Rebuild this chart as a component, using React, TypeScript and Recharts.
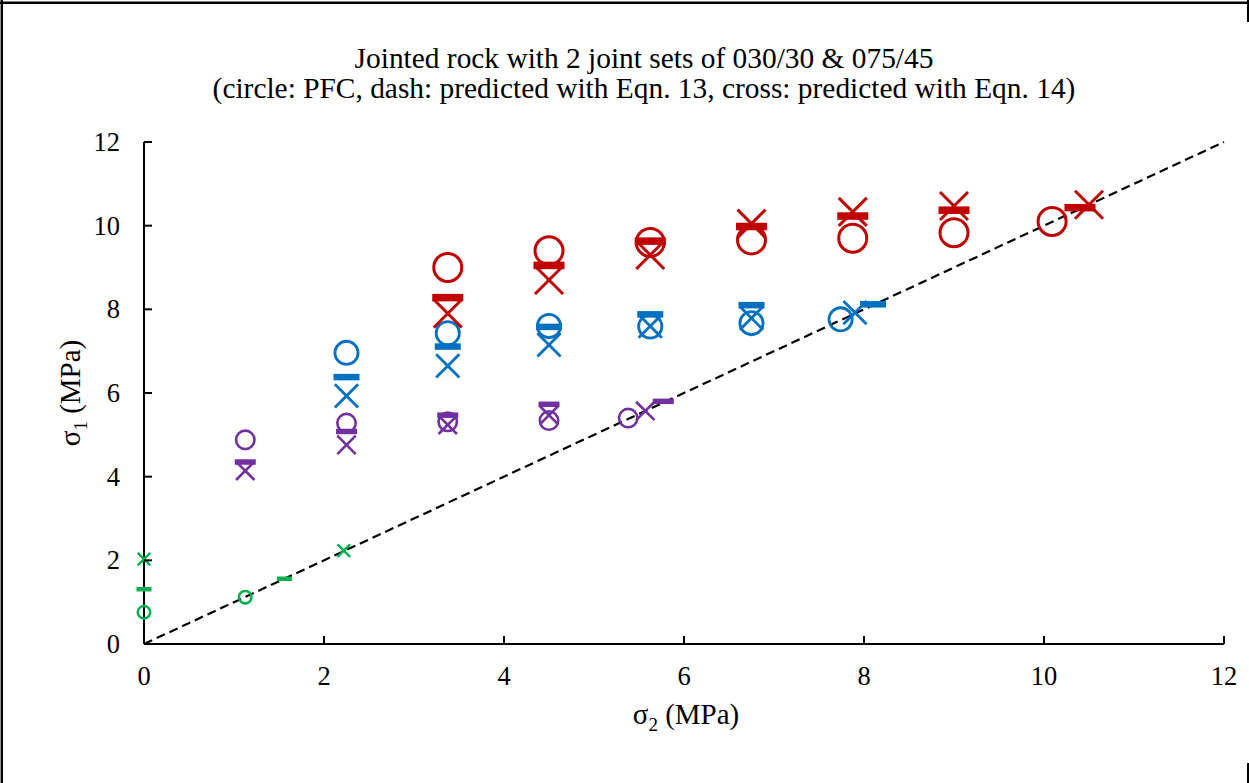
import React from "react";
import { ScatterChart, Scatter, XAxis, YAxis, ReferenceLine } from "recharts";

// ---------- data (σ2, σ1 in MPa) ----------
const xTicks = [0, 2, 4, 6, 8, 10, 12];
const yTicks = [0, 2, 4, 6, 8, 10, 12];

const titleLine1 = "Jointed rock with 2 joint sets of 030/30 & 075/45";
const titleLine2 = "(circle: PFC, dash: predicted with Eqn. 13, cross: predicted with Eqn. 14)";

const diagonal = [
  { s2: 0, s1: 0 },
  { s2: 12, s1: 12 },
];

const greenPFC = [
  { s2: 0, s1: 0.76 },
  { s2: 1.125, s1: 1.12 },
];
const greenEq13 = [
  { s2: 0, s1: 1.31 },
  { s2: 1.56, s1: 1.56 },
];
const greenEq14 = [
  { s2: 0, s1: 2.03 },
  { s2: 2.22, s1: 2.23 },
];

const purplePFC = [
  { s2: 1.125, s1: 4.88 },
  { s2: 2.25, s1: 5.28 },
  { s2: 3.375, s1: 5.31 },
  { s2: 4.5, s1: 5.34 },
  { s2: 5.38, s1: 5.4 },
];
const purpleEq13 = [
  { s2: 1.125, s1: 4.35 },
  { s2: 2.25, s1: 5.08 },
  { s2: 3.375, s1: 5.47 },
  { s2: 4.5, s1: 5.73 },
  { s2: 5.77, s1: 5.8 },
];
const purpleEq14 = [
  { s2: 1.125, s1: 4.14 },
  { s2: 2.25, s1: 4.76 },
  { s2: 3.375, s1: 5.24 },
  { s2: 4.5, s1: 5.47 },
  { s2: 5.57, s1: 5.57 },
];

const bluePFC = [
  { s2: 2.25, s1: 6.96 },
  { s2: 3.375, s1: 7.43 },
  { s2: 4.5, s1: 7.6 },
  { s2: 5.625, s1: 7.59 },
  { s2: 6.75, s1: 7.67 },
  { s2: 7.74, s1: 7.76 },
];
const blueEq13 = [
  { s2: 2.25, s1: 6.38 },
  { s2: 3.375, s1: 7.11 },
  { s2: 4.5, s1: 7.58 },
  { s2: 5.625, s1: 7.88 },
  { s2: 6.75, s1: 8.1 },
  { s2: 8.1, s1: 8.12 },
];
const blueEq14 = [
  { s2: 2.25, s1: 5.93 },
  { s2: 3.375, s1: 6.65 },
  { s2: 4.5, s1: 7.15 },
  { s2: 5.625, s1: 7.6 },
  { s2: 6.75, s1: 7.79 },
  { s2: 7.9, s1: 7.92 },
];

const redPFC = [
  { s2: 3.375, s1: 9.0 },
  { s2: 4.5, s1: 9.4 },
  { s2: 5.625, s1: 9.6 },
  { s2: 6.75, s1: 9.66 },
  { s2: 7.875, s1: 9.7 },
  { s2: 9.0, s1: 9.83 },
  { s2: 10.09, s1: 10.1 },
];
const redEq13 = [
  { s2: 3.375, s1: 8.28 },
  { s2: 4.5, s1: 9.05 },
  { s2: 5.625, s1: 9.63 },
  { s2: 6.75, s1: 9.98 },
  { s2: 7.875, s1: 10.23 },
  { s2: 9.0, s1: 10.37 },
  { s2: 10.4, s1: 10.43 },
];
const redEq14 = [
  { s2: 3.375, s1: 7.9 },
  { s2: 4.5, s1: 8.7 },
  { s2: 5.625, s1: 9.3 },
  { s2: 6.75, s1: 10.05 },
  { s2: 7.875, s1: 10.33 },
  { s2: 9.0, s1: 10.47 },
  { s2: 10.5, s1: 10.5 },
];

// ---------- styles ----------
const FONT = "'Liberation Serif', 'Times New Roman', serif";
const GREEN = "#00B050";
const PURPLE = "#7030A0";
const BLUE = "#0070C0";
const RED = "#C00000";

type Kind = "circle" | "dash" | "cross";

const makeShape = (kind: Kind, color: string, size: number, sw: number, dashH: number) => (props: any) => {
  const { cx, cy } = props;
  if (cx == null || cy == null || isNaN(cx) || isNaN(cy)) return <g />;
  const h = size / 2;
  if (kind === "circle") {
    return <circle cx={cx} cy={cy} r={h - sw / 2} fill="none" stroke={color} strokeWidth={sw} />;
  }
  if (kind === "dash") {
    return <rect x={cx - h} y={cy - dashH / 2} width={size} height={dashH} fill={color} />;
  }
  const c = h - sw / 2;
  return (
    <g stroke={color} strokeWidth={sw} strokeLinecap="butt">
      <line x1={cx - c} y1={cy - c} x2={cx + c} y2={cy + c} />
      <line x1={cx - c} y1={cy + c} x2={cx + c} y2={cy - c} />
    </g>
  );
};

const groups = [
  { name: "green", color: GREEN, size: 15, sw: 2.5, dashH: 4.5, pfc: greenPFC, eq13: greenEq13, eq14: greenEq14 },
  { name: "purple", color: PURPLE, size: 21, sw: 2.6, dashH: 5.5, pfc: purplePFC, eq13: purpleEq13, eq14: purpleEq14 },
  { name: "blue", color: BLUE, size: 26, sw: 2.8, dashH: 6.5, pfc: bluePFC, eq13: blueEq13, eq14: blueEq14 },
  { name: "red", color: RED, size: 31, sw: 3, dashH: 7.5, pfc: redPFC, eq13: redEq13, eq14: redEq14 },
];

const TICK_FS = 26.5;
const LABEL_FS = 29;
const SUB_FS = 19;

const XTick = (props: any) => {
  const { x, y, payload } = props;
  return (
    <g>
      <line x1={x} x2={x} y1={y} y2={y - 8} stroke="#000" strokeWidth={2} />
      <text x={x} y={y + 41} textAnchor="middle" fontFamily={FONT} fontSize={TICK_FS} fill="#000">
        {payload.value}
      </text>
    </g>
  );
};

const YTick = (props: any) => {
  const { x, y, payload } = props;
  return (
    <g>
      <line x1={x} x2={x + 8} y1={y} y2={y} stroke="#000" strokeWidth={2} />
      <text x={x - 24} y={y + 9} textAnchor="end" fontFamily={FONT} fontSize={TICK_FS} fill="#000">
        {payload.value}
      </text>
    </g>
  );
};

const XLabel = (props: any) => {
  const vb = props.viewBox || { x: 144, y: 644, width: 1080 };
  const cx = vb.x + vb.width / 2;
  return (
    <text x={cx + 2} y={724} textAnchor="middle" fontFamily={FONT} fontSize={LABEL_FS} fill="#000">
      <tspan>σ</tspan>
      <tspan fontSize={SUB_FS} dy={7}>2</tspan>
      <tspan dy={-7}> (MPa)</tspan>
    </text>
  );
};

const YLabel = (props: any) => {
  const vb = props.viewBox || { x: 0, y: 142, height: 502 };
  const cy = vb.y + vb.height / 2;
  const bx = 80;
  return (
    <text
      x={bx}
      y={cy}
      transform={`rotate(-90, ${bx}, ${cy})`}
      textAnchor="middle"
      fontFamily={FONT}
      fontSize={LABEL_FS}
      fill="#000"
    >
      <tspan>σ</tspan>
      <tspan fontSize={SUB_FS} dy={7}>1</tspan>
      <tspan dy={-7}> (MPa)</tspan>
    </text>
  );
};

export default function App() {
  return (
    <div style={{ position: "absolute", left: 0, top: 0, width: 1249, height: 783, background: "#fff" }}>
      <ScatterChart width={1249} height={783} margin={{ top: 142, right: 25, bottom: 79, left: 0 }}>
        <XAxis
          type="number"
          dataKey="s2"
          domain={[0, 12]}
          ticks={xTicks}
          height={60}
          axisLine={{ stroke: "#000", strokeWidth: 2 }}
          tickLine={false}
          tickSize={0}
          tickMargin={0}
          tick={<XTick />}
          interval={0}
          label={<XLabel />}
        />
        <YAxis
          type="number"
          dataKey="s1"
          domain={[0, 12]}
          ticks={yTicks}
          width={144}
          axisLine={{ stroke: "#000", strokeWidth: 2 }}
          tickLine={false}
          tickSize={0}
          tickMargin={0}
          tick={<YTick />}
          interval={0}
          label={<YLabel />}
        />
        <ReferenceLine
          segment={[
            { x: diagonal[0].s2, y: diagonal[0].s1 },
            { x: diagonal[1].s2, y: diagonal[1].s1 },
          ]}
          stroke="#000"
          strokeWidth={2.2}
          strokeDasharray="9 5"
          ifOverflow="visible"
        />
        {groups.map((g) => [
          <Scatter
            key={g.name + "-pfc"}
            name={g.name + " PFC"}
            data={g.pfc}
            isAnimationActive={false}
            shape={makeShape("circle", g.color, g.size, g.sw, g.dashH)}
          />,
          <Scatter
            key={g.name + "-eq13"}
            name={g.name + " Eqn13"}
            data={g.eq13}
            isAnimationActive={false}
            shape={makeShape("dash", g.color, g.size, g.sw, g.dashH)}
          />,
          <Scatter
            key={g.name + "-eq14"}
            name={g.name + " Eqn14"}
            data={g.eq14}
            isAnimationActive={false}
            shape={makeShape("cross", g.color, g.size, g.sw, g.dashH)}
          />,
        ])}
      </ScatterChart>
      <svg
        width={1249}
        height={783}
        style={{ position: "absolute", left: 0, top: 0, pointerEvents: "none" }}
      >
        <line x1={0} y1={2.8} x2={1249} y2={2.8} stroke="#000" strokeWidth={2.4} />
        <line x1={1.8} y1={0} x2={1.8} y2={783} stroke="#000" strokeWidth={2.4} />
        <line x1={1248} y1={0} x2={1248} y2={22} stroke="#000" strokeWidth={2} />
        <line x1={1248} y1={763} x2={1248} y2={783} stroke="#000" strokeWidth={2} />
        <text x={644} y={68} textAnchor="middle" fontFamily={FONT} fontSize={29.4} fill="#000">
          {titleLine1}
        </text>
        <text x={644} y={98} textAnchor="middle" fontFamily={FONT} fontSize={29.4} fill="#000">
          {titleLine2}
        </text>
      </svg>
    </div>
  );
}
